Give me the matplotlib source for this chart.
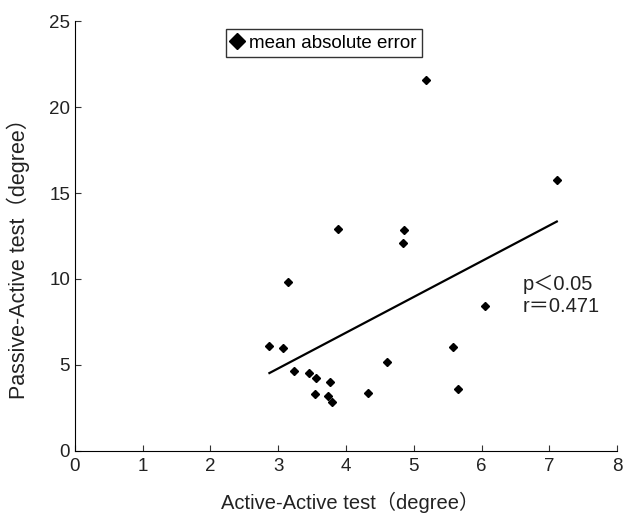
import numpy as np
import matplotlib.pyplot as plt

plt.rcParams['font.family'] = ['Liberation Sans', 'Noto Sans CJK JP', 'DejaVu Sans']

# active-active error vs passive-active error (degree)
active = [2.87, 3.07, 3.14, 3.23, 3.46, 3.56, 3.54, 3.77, 3.73, 3.80,
          3.88, 4.32, 4.61, 4.86, 4.84, 5.18, 5.58, 5.65, 6.05, 7.11]
passive = [6.09, 5.99, 9.82, 4.64, 4.56, 4.25, 3.31, 4.02, 3.17, 2.84,
           12.9, 3.40, 5.18, 12.84, 12.08, 21.58, 6.05, 3.63, 8.45, 15.77]

x = np.array(active)
y = np.array(passive)
k, b = np.polyfit(x, y, 1)
xf = np.array([x.min(), x.max()])

fig = plt.figure(figsize=(6.24, 5.14), dpi=100)
ax = fig.add_axes([0.12, 0.1226, 0.869, 0.8365])

ax.plot(x, y, 'D', color='k', ms=4.2, ls='none', label='mean absolute error')
ax.plot(xf, k * xf + b, '-k', lw=1.6)

ax.set_xlim(0, 8)
ax.set_ylim(0, 25)
ax.set_xticks(range(0, 9))
ax.set_yticks(range(0, 26, 5))
ax.spines['top'].set_visible(False)
ax.spines['right'].set_visible(False)
ax.tick_params(direction='in', length=4, labelsize=13.5, color='#333333', labelcolor='#222222')
ax.tick_params(axis='x', pad=5)

ax.set_xlabel('Active-Active test（degree）', fontsize=14.5, color='#222222')
ax.set_ylabel('Passive-Active test（degree）', fontsize=15.5, color='#222222')
ax.xaxis.set_label_coords(0.507, -0.096)
ax.yaxis.set_label_coords(-0.083, 0.46)

ax.text(6.6, 9.05, 'p＜0.05\nr＝0.471', fontsize=14.5, color='#222222',
        va='center', ha='left', linespacing=1.2)

leg = ax.legend(loc='upper left', bbox_to_anchor=(0.279, 0.982), fontsize=13.5,
                handlelength=0.6, handletextpad=0.3, markerscale=2.0,
                fancybox=False, edgecolor='k', borderpad=0.3, borderaxespad=0)
leg.get_frame().set_linewidth(1.0)

plt.savefig('out.png', dpi=100)
